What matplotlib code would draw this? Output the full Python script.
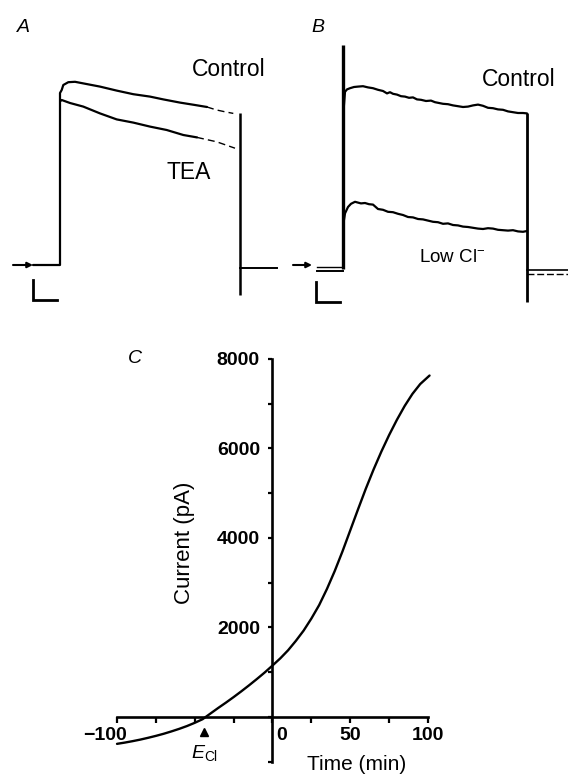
import matplotlib
matplotlib.use("Agg")
import matplotlib.pyplot as plt
from matplotlib.transforms import ScaledTranslation

plt.rcParams["font.family"] = ["Liberation Sans", "DejaVu Sans"]
plt.rcParams["mathtext.fontset"] = "custom"
plt.rcParams["mathtext.rm"] = "Liberation Sans"
plt.rcParams["mathtext.it"] = "Liberation Sans:italic"
plt.rcParams["mathtext.bf"] = "Liberation Sans:bold"

# ---------------- Panel A: whole-cell currents, control vs TEA ----------------
# time in ms from step onset, current in nA
a_ctrl_t = [-27, 0, 0, 1.7, 3.3, 8.3, 15, 23.3, 40, 56.7, 73.3, 90, 103.3, 120, 135, 147]
a_ctrl_i = [0, 0, 4.30, 4.375, 4.50, 4.57, 4.58, 4.54, 4.46, 4.36, 4.27, 4.21, 4.14, 4.06, 4.00, 3.95]
a_ctrl_tail_t = [147, 156.7, 165, 173.3]
a_ctrl_tail_i = [3.95, 3.875, 3.83, 3.79]

a_tea_t = [0.5, 1.7, 10, 23.3, 40, 56.7, 73.3, 90, 106.7, 123.3, 137]
a_tea_i = [4.10, 4.125, 4.05, 3.96, 3.79, 3.64, 3.56, 3.46, 3.375, 3.25, 3.19]
a_tea_tail_t = [137, 156.7, 175]
a_tea_tail_i = [3.19, 3.08, 2.92]

a_off_t = 180
a_off_top, a_off_bottom = 3.80, -0.75
a_after_t = [180, 217]
a_after_i = [-0.075, -0.075]

# ---------------- Panel B: control vs low chloride ----------------
b_spike_top, b_spike_bottom = 5.55, -0.05
b_ctrl_base_t = [-26, 0]
b_ctrl_base_i = [0.0, 0.0]
b_low_base_t = [-26, 0]
b_low_base_i = [-0.10, -0.10]

b_ctrl_t = [0.5, 2, 4, 7, 11, 15, 20, 25, 30, 35, 40, 44, 47, 50, 54, 58, 62, 66, 70, 74,
            78, 83, 88, 92, 96, 100, 105, 110, 115, 120, 125, 130, 135, 140, 145, 150, 155,
            160, 165, 170, 175, 180, 184]
b_ctrl_i = [3.90, 4.38, 4.44, 4.47, 4.50, 4.51, 4.52, 4.49, 4.47, 4.43, 4.40, 4.34, 4.37, 4.33,
            4.31, 4.27, 4.26, 4.23, 4.24, 4.19, 4.18, 4.15, 4.16, 4.12, 4.10, 4.08, 4.07, 4.04,
            4.02, 4.00, 4.01, 4.04, 4.06, 4.03, 3.98, 3.97, 3.94, 3.93, 3.89, 3.87, 3.85, 3.85, 3.84]

b_low_t = [0.5, 2, 5, 8, 12, 15, 18, 22, 26, 30, 35, 40, 45, 50, 55, 60, 65, 70, 75, 80, 85,
           90, 95, 100, 105, 110, 115, 120, 125, 130, 135, 140, 145, 150, 155, 160, 165, 170,
           175, 180, 184]
b_low_i = [1.10, 1.34, 1.50, 1.58, 1.63, 1.61, 1.59, 1.60, 1.57, 1.56, 1.45, 1.43, 1.38, 1.37,
           1.33, 1.30, 1.25, 1.24, 1.20, 1.19, 1.16, 1.13, 1.12, 1.08, 1.09, 1.05, 1.04, 1.01,
           1.00, 0.98, 0.96, 0.95, 0.97, 0.96, 0.93, 0.92, 0.91, 0.92, 0.89, 0.88, 0.90]

b_off_t = 184
b_off_top, b_off_bottom = 3.84, -0.875
b_after_t = [184, 225]
b_after_ctrl_i = [-0.075, -0.075]
b_after_low_i = [-0.175, -0.175]

# scale bars (ms, nA)
scale_ms = 24
scale_na = 0.5

# ---------------- Panel C: current-voltage relation ----------------
c_x = [-100, -95, -90, -85, -80, -75, -70, -65, -60, -55, -50, -45, -40, -35, -30, -25,
       -20, -15, -10, -5, 0, 5, 10, 15, 20, 25, 30, 35, 40, 45, 50, 55, 60, 65, 70, 75,
       80, 85, 90, 95, 101]
c_y = [-600, -572, -540, -505, -465, -422, -375, -322, -265, -202, -130, -50, 75, 200,
       320, 445, 575, 710, 850, 995, 1150, 1310, 1490, 1700, 1930, 2200, 2500, 2860, 3260,
       3700, 4170, 4640, 5100, 5530, 5930, 6300, 6640, 6950, 7220, 7440, 7630]
e_cl = -44

x_ticks = [-100, -75, -50, -25, 0, 25, 50, 75, 100]
x_tick_labels = ["\u2212100", "", "", "", "0", "", "50", "", "100"]
y_ticks = [-1000, 0, 1000, 2000, 3000, 4000, 5000, 6000, 7000, 8000]
y_tick_labels = ["", "", "", "2000", "", "4000", "", "6000", "", "8000"]

fig = plt.figure(figsize=(5.68, 7.75), dpi=100)

trace_kw = dict(color="black", lw=1.6, solid_capstyle="round", solid_joinstyle="round")
dash_kw = dict(color="black", lw=1.0, dashes=(5, 3))


def draw_zero_arrow(ax, x0, x1, y):
    ax.annotate("", xy=(x1, y), xytext=(x0, y),
                arrowprops=dict(arrowstyle="-|>", lw=1.5, color="black",
                                mutation_scale=8, shrinkA=0, shrinkB=0))


def draw_scale_bar(ax, x, y):
    ax.plot([x, x, x + scale_ms], [y + scale_na, y, y], color="black", lw=2.0,
            solid_joinstyle="miter")


# Panel A
axA = fig.add_axes([0.0, 0.6, 0.5, 0.4])
axA.set_xlim(-60, 224)
axA.set_ylim(-1.125, 6.625)
axA.axis("off")
axA.plot(a_ctrl_t, a_ctrl_i, **trace_kw)
axA.plot(a_ctrl_tail_t, a_ctrl_tail_i, **dash_kw)
axA.plot(a_tea_t, a_tea_i, **trace_kw)
axA.plot(a_tea_tail_t, a_tea_tail_i, **dash_kw)
axA.vlines(a_off_t, a_off_bottom, a_off_top, color="black", lw=1.8)
axA.plot(a_after_t, a_after_i, color="black", lw=1.4)
draw_zero_arrow(axA, -47, -27, 0)
draw_scale_bar(axA, -27, -0.875)

# Panel B
axB = fig.add_axes([0.5, 0.6, 0.5, 0.4])
axB.set_xlim(-59, 225)
axB.set_ylim(-1.075, 6.675)
axB.axis("off")
axB.vlines(0, b_spike_bottom, b_spike_top, color="black", lw=2.4)
axB.plot(b_ctrl_base_t, b_ctrl_base_i, color="black", lw=1.0)
axB.plot(b_low_base_t, b_low_base_i, color="black", lw=1.4)
axB.plot(b_ctrl_t, b_ctrl_i, **trace_kw)
axB.plot(b_low_t, b_low_i, **trace_kw)
axB.vlines(b_off_t, b_off_bottom, b_off_top, color="black", lw=2.0)
axB.plot(b_after_t, b_after_ctrl_i, color="black", lw=1.2)
axB.plot(b_after_t, b_after_low_i, color="black", lw=1.0, dashes=(5, 2))
draw_zero_arrow(axB, -50, -31, 0.05)
draw_scale_bar(axB, -27.3, -0.875)

# Panel C
axC = fig.add_axes([0.206, 0.0171, 0.5475, 0.5197])
axC.set_xlim(-100, 100)
axC.set_ylim(-1000, 8000)
axC.patch.set_alpha(0)
for side in ("top", "right"):
    axC.spines[side].set_visible(False)
axC.spines["left"].set_position(("data", 0))
axC.spines["bottom"].set_position(("data", 0))
axC.spines["left"].set_bounds(-1000, 8000)
axC.spines["bottom"].set_bounds(-100, 100)
for side in ("left", "bottom"):
    axC.spines[side].set_linewidth(1.9)

axC.plot(c_x, c_y, color="black", lw=1.7, clip_on=False,
         solid_joinstyle="round", solid_capstyle="round")

axC.set_xticks(x_ticks)
axC.set_xticklabels(x_tick_labels, fontsize=14, fontweight="bold")
axC.set_yticks(y_ticks)
axC.set_yticklabels(y_tick_labels, fontsize=14, fontweight="bold")
axC.tick_params(axis="x", direction="out", length=4.3, width=1.6, pad=3.0)
axC.tick_params(axis="y", direction="out", length=3.0, width=1.6, pad=6.0)

for lab in axC.get_xticklabels():
    if lab.get_text() == "0":
        lab.set_transform(lab.get_transform() + ScaledTranslation(0.09, 0, fig.dpi_scale_trans))
    elif lab.get_text().endswith("100") and lab.get_text().startswith("\u2212"):
        lab.set_transform(lab.get_transform() + ScaledTranslation(-0.12, 0, fig.dpi_scale_trans))

axC.set_ylabel("Current (pA)", fontsize=16)
axC.yaxis.set_label_coords(0.251, 0.543)
axC.set_xlabel("Time (min)", fontsize=15)
axC.xaxis.set_label_coords(0.772, -0.008)
axC.xaxis.label.set_va("center")

axC.plot([e_cl], [-330], marker="^", color="black", markersize=6, clip_on=False)
axC.text(e_cl, -800, r"$E_{\mathrm{Cl}}$", fontsize=14, ha="center", va="center")

# panel letters and trace labels
fig.text(0.0405, 0.965, "A", fontsize=14, style="italic", ha="center", va="center")
fig.text(0.56, 0.965, "B", fontsize=14, style="italic", ha="center", va="center")
fig.text(0.2377, 0.538, "C", fontsize=14, style="italic", ha="center", va="center")
fig.text(0.338, 0.9097, "Control", fontsize=16.5, ha="left", va="center")
fig.text(0.294, 0.778, "TEA", fontsize=16.5, ha="left", va="center")
fig.text(0.8486, 0.897, "Control", fontsize=16.5, ha="left", va="center")
fig.text(0.738, 0.668, "Low Cl$^{-}$", fontsize=13.5, ha="left", va="center")

fig.savefig("out.png", dpi=100)
